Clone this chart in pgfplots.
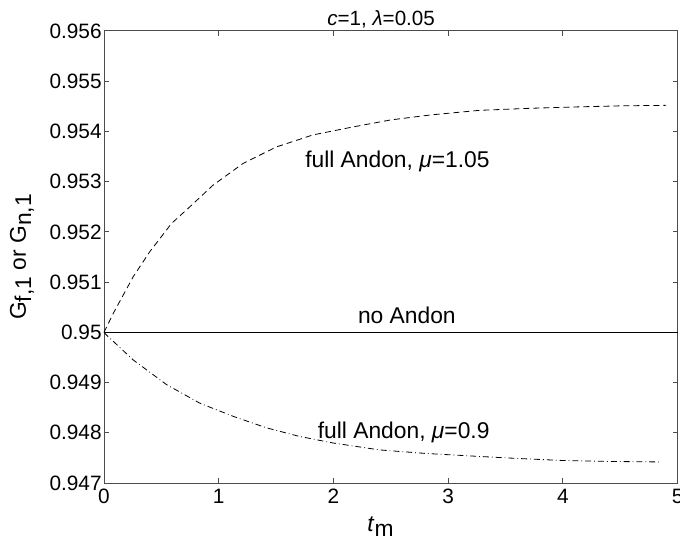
\documentclass[border=0pt]{standalone}
\usepackage{fontspec}
\setmainfont{Liberation Sans}
\usepackage{pgfplots}
\pgfplotsset{compat=1.18}

% dashed curve: full Andon, mu = 1.05
\pgfplotstableread{
t G
0 0.95000
0.081 0.95038
0.255 0.95111
0.40 0.95161
0.589 0.95217
0.748 0.95250
0.95 0.95293
1.21 0.95336
1.50 0.95369
1.82 0.95393
2.17 0.95409
2.50 0.95423
2.85 0.95433
3.27 0.95442
3.70 0.95446
4.14 0.95449
4.50 0.95451
4.90 0.95452
}\fullhigh

% dash-dot curve: full Andon, mu = 0.9
\pgfplotstableread{
t G
0 0.95000
0.02 0.94995
0.255 0.94945
0.545 0.94896
0.835 0.94859
1.124 0.94833
1.415 0.94810
1.70 0.94793
1.99 0.94780
2.40 0.94766
2.80 0.94759
3.27 0.94753
3.60 0.94749
3.99 0.94745
4.40 0.94743
4.86 0.94742
}\fulllow

\begin{document}
\fontsize{10.4}{12}\selectfont
\begin{tikzpicture}
\begin{axis}[
  scale only axis,
  width=286.8pt, height=226pt,
  xmin=0, xmax=5, ymin=0.947, ymax=0.956,
  xtick={0,1,2,3,4,5},
  ytick={0.947,0.948,0.949,0.950,0.951,0.952,0.953,0.954,0.955,0.956},
  yticklabels={0.947,0.948,0.949,0.95,0.951,0.952,0.953,0.954,0.955,0.956},
  /pgf/number format/assume math mode=true,
  tick align=inside,
  tickpos=both,
  major tick length=2.5pt,
  axis line style={black!70, line width=0.5pt},
  tick style={black!70, line width=0.5pt},
  ticklabel style={font=\fontsize{10.4}{12}\selectfont},
  yticklabel style={inner sep=1pt},
  xticklabel style={inner sep=1pt, yshift=-2pt},
  clip=false,
  every axis plot/.append style={black, line width=0.4pt},
]
\addplot[dash pattern=on 3pt off 2pt] table[x=t, y=G] {\fullhigh};
\addplot[dash pattern=on 3pt off 1.5pt on 0.4pt off 1.5pt] table[x=t, y=G] {\fulllow};
\addplot[solid] coordinates {(0,0.95) (5,0.95)};

\node[anchor=base west, font=\fontsize{11.4}{13}\selectfont] at (axis cs:1.69,0.95329) {full Andon, \textit{μ}=1.05};
\node[anchor=base west, font=\fontsize{11.4}{13}\selectfont] at (axis cs:2.15,0.95017) {no Andon};
\node[anchor=base west, font=\fontsize{11.4}{13}\selectfont] at (axis cs:1.80,0.94788) {full Andon, \textit{μ}=0.9};
\node[anchor=base, font=\fontsize{10.3}{12}\selectfont] at (axis description cs:0.483,1) [yshift=2.5pt] {\textit{c}=1, \textit{λ}=0.05};

\coordinate (sw) at (rel axis cs:0,0);
\coordinate (nw) at (rel axis cs:0,1);
\coordinate (se) at (rel axis cs:1,0);
\coordinate (ne) at (rel axis cs:1,1);
\end{axis}
\path (sw) -- (se) node[pos=0.482, yshift=-13pt, anchor=north, font=\fontsize{11.4}{13}\selectfont]
  {\textit{t}\raisebox{-0.45ex}{m}};
\path (sw) -- (nw) node[pos=0.5, xshift=-41pt, rotate=90, anchor=center, font=\fontsize{11.4}{13}\selectfont]
  {G\raisebox{-0.45ex}{f,1} or G\raisebox{-0.45ex}{n,1}};
\pgfresetboundingbox
\path ([xshift=-52pt, yshift=-29pt]sw) rectangle ([xshift=1.15pt, yshift=15.5pt]ne);
\end{tikzpicture}
\end{document}
